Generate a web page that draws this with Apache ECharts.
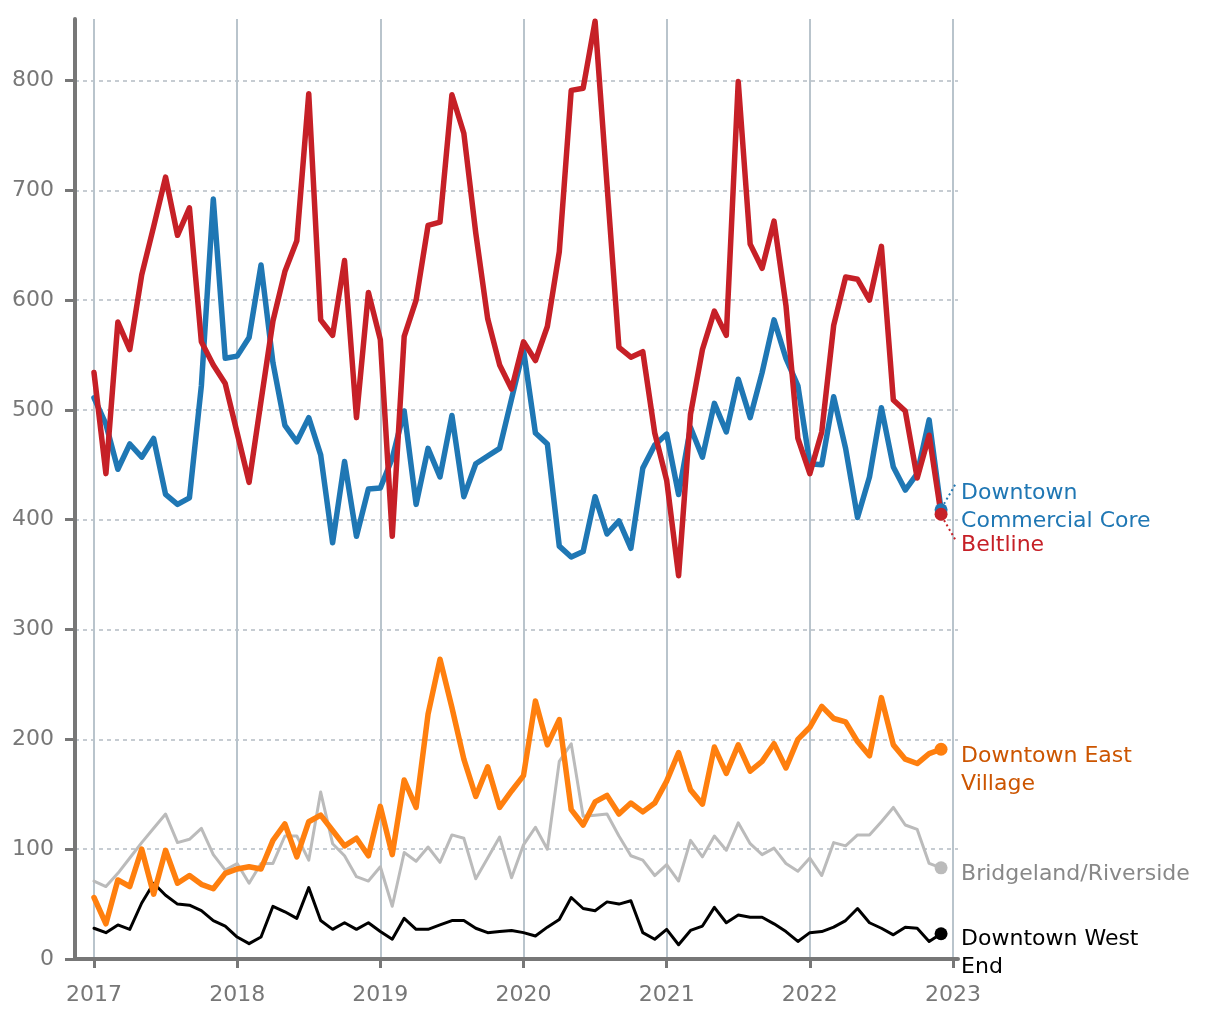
<!DOCTYPE html>
<html><head><meta charset="utf-8">
<script src="https://cdn.jsdelivr.net/npm/echarts@6/dist/echarts.min.js"></script>
<style>html,body{margin:0;padding:0;background:#fff}#c{width:1220px;height:1020px}</style>
</head><body><div id="c"></div>
<script>
// ---- data (monthly, Jan 2017 .. Dec 2022) ----
const startYear = 2017;
const yearTicks = [2017, 2018, 2019, 2020, 2021, 2022, 2023];
const valueTicks = [0, 100, 200, 300, 400, 500, 600, 700, 800];

const commercialCore = [511,487,446,469,457,474,423,414,420,522,692,547,
  549,566,632,543,486,471,493,459,379,453,385,428,
  429,456,499,414,465,439,495,421,451,458,465,510,
  555,479,469,376,366,371,421,387,399,374,447,468,
  478,423,484,457,506,480,528,493,534,582,547,522,
  451,450,512,465,402,439,502,448,427,442,491,409];
const beltline = [534,442,580,555,623,667,712,659,684,562,541,524,
  479,434,508,581,626,654,788,582,568,636,493,607,
  564,385,567,600,668,671,787,752,661,583,541,519,
  562,545,576,644,791,793,854,705,557,548,553,479,
  436,349,496,555,590,568,799,651,629,672,595,474,
  442,480,577,621,619,600,649,509,499,438,477,405];
const eastVillage = [56,32,72,66,100,59,99,69,76,68,64,78,
  82,84,82,108,123,93,125,131,117,103,110,94,
  139,95,163,138,223,273,229,182,148,175,138,153,
  167,235,195,218,136,122,143,149,132,142,134,142,
  162,188,154,141,193,169,195,171,180,196,174,200,
  211,230,219,216,198,185,238,195,182,178,187,191];
const bridgeland = [71,66,78,92,106,119,132,106,109,119,95,81,
  87,69,87,87,112,112,90,152,105,94,75,71,
  84,48,97,89,102,88,113,110,73,92,111,74,
  104,120,100,180,196,130,131,132,112,94,90,76,
  86,71,108,93,112,99,124,105,95,101,87,80,
  92,76,106,103,113,113,125,138,122,118,87,83];
const westEnd = [28,24,31,27,51,69,58,50,49,44,35,30,
  20,14,20,48,43,37,65,35,27,33,27,33,
  25,18,37,27,27,31,35,35,28,24,25,26,
  24,21,29,36,56,46,44,52,50,53,24,18,
  27,13,26,30,47,33,40,38,38,32,25,16,
  24,25,29,35,46,33,28,22,29,28,16,23];

const FONT = '"DejaVu Sans", sans-serif';

const defs = [
  { name: 'Bridgeland/Riverside', values: bridgeland, color: '#bbbbbb', width: 3, text: '#888888', label: 'Bridgeland/Riverside', dy: 6 },
  { name: 'Downtown West End', values: westEnd, color: '#000000', width: 3, text: '#000000', label: 'Downtown West\nEnd', dy: 20 },
  { name: 'Downtown East Village', values: eastVillage, color: '#ff7f0e', width: 5.5, text: '#cc5500', label: 'Downtown East\nVillage', dy: 21 },
  { name: 'Downtown Commercial Core', values: commercialCore, color: '#1f77b4', width: 5.5, text: '#1f77b4', label: 'Downtown\nCommercial Core', dy: -3, lead: -1 },
  { name: 'Beltline', values: beltline, color: '#c62027', width: 5.5, text: '#c62027', label: 'Beltline', dy: 31, lead: 1 }
];

function toPoints(vals) {
  return vals.map((v, i) => {
    const p = [startYear + i / 12, v];
    if (i === vals.length - 1) return { value: p, symbol: 'circle', symbolSize: 13 };
    return { value: p, symbol: 'none' };
  });
}

const chart = echarts.init(document.getElementById('c'));
const option = {
  animation: false,
  backgroundColor: '#ffffff',
  grid: { left: 75, right: 262, top: 19, bottom: 61, containLabel: false },
  xAxis: {
    type: 'value', min: 2016.8673, max: 2023.035,
    axisLine: { show: true, lineStyle: { color: '#777777', width: 4 } },
    axisTick: { show: true, customValues: yearTicks, length: 9, lineStyle: { color: '#777777', width: 3 } },
    axisLabel: { customValues: yearTicks, formatter: v => String(Math.round(v)), color: '#777777', fontSize: 22, fontFamily: FONT, margin: 25 },
    splitLine: { show: true, lineStyle: { color: '#b9c4cc', width: 2, type: 'solid' } }
  },
  yAxis: {
    type: 'value', min: 0, max: 856,
    axisLine: { show: true, lineStyle: { color: '#777777', width: 4 } },
    axisTick: { show: true, customValues: valueTicks, length: 10, lineStyle: { color: '#777777', width: 3 } },
    axisLabel: { customValues: valueTicks, color: '#777777', fontSize: 22, fontFamily: FONT, margin: 21 },
    splitLine: { show: true, lineStyle: { color: '#b4bcc4', width: 1.5, type: [4, 4] } }
  },
  series: defs.map(d => ({
    name: d.name,
    type: 'line',
    data: toPoints(d.values),
    showSymbol: true,
    symbol: 'none',
    itemStyle: { color: d.color },
    lineStyle: { color: d.color, width: d.width, join: 'round', cap: 'round' },
    emphasis: { disabled: true },
    silent: true
  }))
};
chart.setOption(option);

const graphics = [];
defs.forEach(d => {
  const n = d.values.length - 1;
  const p = chart.convertToPixel({ gridIndex: 0 }, [startYear + n / 12, d.values[n]]);
  graphics.push({
    type: 'text', silent: true,
    style: { x: p[0] + 20, y: p[1] + d.dy, text: d.label, fill: d.text, fontSize: 22, fontFamily: FONT, lineHeight: 28, verticalAlign: 'middle', align: 'left' }
  });
  if (d.lead) {
    graphics.push({
      type: 'line', silent: true,
      shape: { x1: p[0] + 3, y1: p[1] + d.lead * 6, x2: p[0] + 14, y2: p[1] + d.lead * 25 },
      style: { stroke: d.color, lineWidth: 2, lineDash: [2, 3] }
    });
  }
});
chart.setOption({ graphic: graphics });
</script></body></html>
